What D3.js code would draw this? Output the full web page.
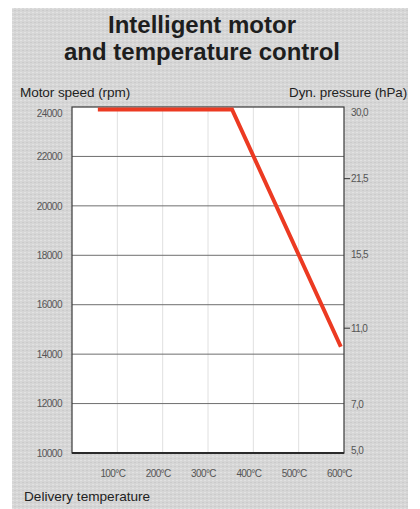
<!DOCTYPE html>
<html><head><meta charset="utf-8">
<script src="https://cdn.jsdelivr.net/npm/d3@7"></script>
<style>
html,body{margin:0;padding:0;background:#fff;}
svg{display:block;}
</style></head>
<body>
<svg id="chart" width="420" height="509"></svg>
<script>
// ---- data ----
const titleLines = ["Intelligent motor", "and temperature control"];
const rpmTicks = [10000, 12000, 14000, 16000, 18000, 20000, 22000, 24000];
const tempTicks = [100, 200, 300, 400, 500, 600];
const pressureTicks = [5.0, 7.0, 11.0, 15.5, 21.5, 30.0];
const pressureRpmEquiv = [10000, 11950, 15050, 18050, 21100, 24000];
const pressureTickMarks = [21.5, 11.0];
const lineTemp = [57, 353, 593];
const lineRpm = [23900, 23900, 14300];

const svg = d3.select("#chart");
const font = "'Liberation Sans', Arial, sans-serif";

// background panel
svg.append("rect").attr("x", 12).attr("y", 8).attr("width", 396).attr("height", 501).attr("fill", "#d6d6d6");
// subtle texture
const defs = svg.append("defs");
const pat = defs.append("pattern").attr("id", "tex").attr("width", 4).attr("height", 4).attr("patternUnits", "userSpaceOnUse");
pat.append("rect").attr("width", 4).attr("height", 4).attr("fill", "#d6d6d6");
pat.append("rect").attr("x", 0).attr("y", 0).attr("width", 2).attr("height", 1).attr("fill", "#e2e2e2");
pat.append("rect").attr("x", 2).attr("y", 2).attr("width", 2).attr("height", 1).attr("fill", "#cbcbcb");
svg.append("rect").attr("x", 12).attr("y", 8).attr("width", 396).attr("height", 501).attr("fill", "url(#tex)");

// title
svg.append("g").selectAll("text").data(titleLines).join("text")
  .attr("x", 202).attr("y", (d, i) => 33 + i * 27)
  .attr("text-anchor", "middle")
  .attr("font-family", font).attr("font-weight", "bold").attr("font-size", 24)
  .attr("fill", "#1e1e1e").text(d => d);

// scales
const x = d3.scaleLinear().domain([0, 600]).range([72, 344]);
const y = d3.scaleLinear().domain([10000, 24000]).range([453, 107]);
const p = d3.scaleLinear().domain(pressureTicks).range(pressureRpmEquiv);

// plot area
svg.append("rect").attr("x", x(0)).attr("y", y(24000)).attr("width", x(600) - x(0)).attr("height", y(10000) - y(24000)).attr("fill", "#fff");

// vertical grid
svg.append("g").selectAll("line").data(tempTicks.slice(0, -1)).join("line")
  .attr("x1", d => x(d)).attr("x2", d => x(d)).attr("y1", y(24000)).attr("y2", y(10000))
  .attr("stroke", "#e0e0e0").attr("stroke-width", 1);

// horizontal grid
svg.append("g").selectAll("line").data(rpmTicks.slice(1, -1)).join("line")
  .attr("x1", x(0)).attr("x2", x(600)).attr("y1", d => y(d)).attr("y2", d => y(d))
  .attr("stroke", "#6e6e6e").attr("stroke-width", 1);

// frame
svg.append("rect").attr("x", x(0)).attr("y", y(24000)).attr("width", x(600) - x(0)).attr("height", y(10000) - y(24000))
  .attr("fill", "none").attr("stroke", "#3a3a3a").attr("stroke-width", 1.2);
svg.append("line").attr("x1", x(0)).attr("x2", x(600)).attr("y1", y(10000)).attr("y2", y(10000))
  .attr("stroke", "#2a2a2a").attr("stroke-width", 2);

// red line
const lineGen = d3.line().x(d => x(d[0])).y(d => y(d[1]));
svg.append("path").datum(lineTemp.map((t, i) => [t, lineRpm[i]]))
  .attr("d", lineGen).attr("fill", "none").attr("stroke", "#ec3a22").attr("stroke-width", 4)
  .attr("stroke-linejoin", "miter");

// left axis
const leftAxis = svg.append("g").attr("transform", `translate(${x(0)},0)`)
  .call(d3.axisLeft(y).tickValues(rpmTicks).tickSize(0).tickPadding(10).tickFormat(d3.format("d")));
leftAxis.select(".domain").remove();
leftAxis.selectAll("text").attr("font-family", font).attr("font-size", 10).attr("fill", "#555")
  .attr("letter-spacing", -0.5)
  .attr("dy", d => d === 24000 ? "0.95em" : "0.32em");

// bottom axis
const bottomAxis = svg.append("g").attr("transform", `translate(-5,${y(10000)})`)
  .call(d3.axisBottom(x).tickValues(tempTicks).tickSize(0).tickPadding(17).tickFormat(d => d + "°C"));
bottomAxis.select(".domain").remove();
bottomAxis.selectAll("text").attr("font-family", font).attr("font-size", 10).attr("fill", "#555")
  .attr("letter-spacing", -0.6);

// right axis (dynamic pressure)
const fmtP = d => d3.format(".1f")(d).replace(".", ",");
const right = svg.append("g").attr("transform", `translate(${x(600)},0)`);
right.selectAll("line").data(pressureTickMarks).join("line")
  .attr("x1", 0).attr("x2", 6).attr("y1", d => y(p(d))).attr("y2", d => y(p(d)))
  .attr("stroke", "#333").attr("stroke-width", 1);
right.selectAll("text").data(pressureTicks).join("text")
  .attr("x", 7).attr("y", d => y(p(d)))
  .attr("dy", d => d === 30 ? "0.85em" : (d === 5 ? "0.1em" : "0.35em"))
  .attr("font-family", font).attr("font-size", 10).attr("fill", "#555").attr("letter-spacing", -0.6)
  .text(fmtP);

// axis titles
svg.append("text").attr("x", 20).attr("y", 97).attr("font-family", font).attr("font-size", 13.6)
  .attr("fill", "#222").attr("letter-spacing", -0.1).text("Motor speed (rpm)");
svg.append("text").attr("x", 407).attr("y", 97).attr("text-anchor", "end").attr("font-family", font).attr("font-size", 13.4)
  .attr("fill", "#222").attr("letter-spacing", -0.1).text("Dyn. pressure (hPa)");
svg.append("text").attr("x", 24).attr("y", 501).attr("font-family", font).attr("font-size", 13.6)
  .attr("fill", "#222").attr("letter-spacing", 0).text("Delivery temperature");
</script>
</body></html>
